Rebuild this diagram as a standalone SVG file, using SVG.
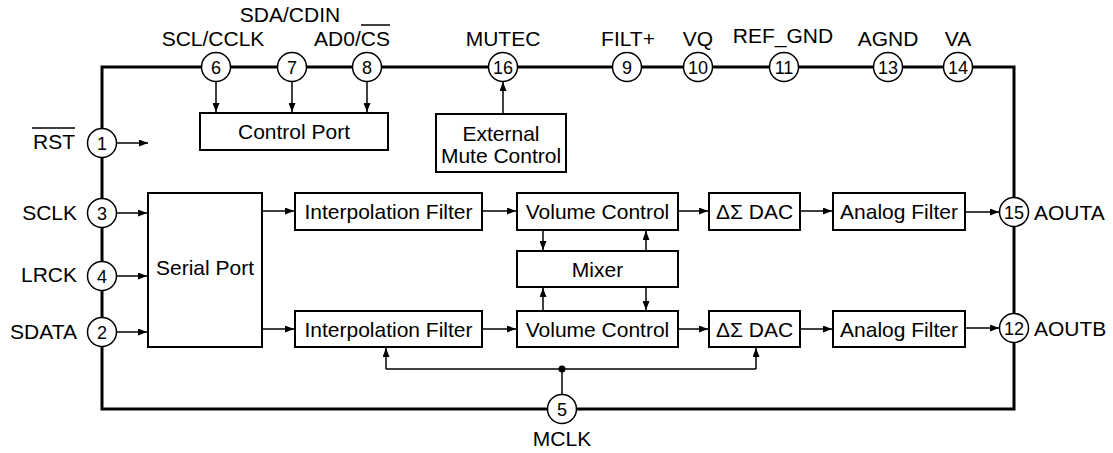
<svg xmlns="http://www.w3.org/2000/svg" width="1113" height="453" viewBox="0 0 1113 453">
<style>
text{font-family:"Liberation Sans",Arial,sans-serif;fill:#000}
.lbl{font-size:21px}
.num{font-size:18px;text-anchor:middle}
.mid{text-anchor:middle}
.end{text-anchor:end}
.box{fill:#fff;stroke:#000;stroke-width:2}
.pin{fill:#fff;stroke:#000;stroke-width:1.5}
.con{fill:none;stroke:#000;stroke-width:1.5}
.ov{stroke:#000;stroke-width:1.5}
</style>
<defs>
<marker id="ah" markerUnits="userSpaceOnUse" markerWidth="10" markerHeight="7" refX="9" refY="3.5" orient="auto">
<path d="M0,0 L9,3.5 L0,7 z" fill="#000"/>
</marker>
</defs>
<rect id="chip" x="102" y="67" width="912" height="342" fill="none" stroke="#000" stroke-width="3"/>
<g id="connectors" class="con">
<path d="M216,82 V112" marker-end="url(#ah)"/>
<path d="M292,82 V112" marker-end="url(#ah)"/>
<path d="M367,82 V112" marker-end="url(#ah)"/>
<path d="M117,143 H148" marker-end="url(#ah)"/>
<path d="M503,114 V82" marker-end="url(#ah)"/>
<path d="M117,213 H147" marker-end="url(#ah)"/>
<path d="M117,276 H147" marker-end="url(#ah)"/>
<path d="M117,332 H147" marker-end="url(#ah)"/>
<path d="M262,211 H294" marker-end="url(#ah)"/>
<path d="M262,329 H294" marker-end="url(#ah)"/>
<path d="M482,211 H516" marker-end="url(#ah)"/>
<path d="M482,329 H516" marker-end="url(#ah)"/>
<path d="M678,211 H708" marker-end="url(#ah)"/>
<path d="M678,329 H708" marker-end="url(#ah)"/>
<path d="M800,211 H832" marker-end="url(#ah)"/>
<path d="M800,329 H832" marker-end="url(#ah)"/>
<path d="M965,212 H999" marker-end="url(#ah)"/>
<path d="M965,328 H999" marker-end="url(#ah)"/>
<path d="M543,230 V250" marker-end="url(#ah)"/>
<path d="M646,251 V231" marker-end="url(#ah)"/>
<path d="M543,311 V288" marker-end="url(#ah)"/>
<path d="M646,287 V310" marker-end="url(#ah)"/>
<path d="M562,394 V369"/>
<path d="M386,369 H756"/>
<path d="M386,369 V348" marker-end="url(#ah)"/>
<path d="M756,369 V348" marker-end="url(#ah)"/>
<circle cx="562" cy="369" r="3.5" fill="#000" stroke="none"/>
</g>
<g id="control-port"><rect class="box" x="200" y="113" width="188" height="37"/><text class="lbl mid" x="294" y="139">Control Port</text></g>
<g id="ext-mute"><rect class="box" x="436" y="114" width="130" height="58"/><text class="lbl mid" x="501" y="141">External</text><text class="lbl mid" x="501" y="163">Mute Control</text></g>
<g id="serial-port"><rect class="box" x="148" y="193" width="114" height="154"/><text class="lbl mid" x="205" y="275">Serial Port</text></g>
<g id="interp-a"><rect class="box" x="295" y="193" width="187" height="37"/><text class="lbl mid" x="388.5" y="219">Interpolation Filter</text></g>
<g id="interp-b"><rect class="box" x="295" y="311" width="187" height="36"/><text class="lbl mid" x="388.5" y="336.5">Interpolation Filter</text></g>
<g id="vol-a"><rect class="box" x="517" y="193" width="161" height="37"/><text class="lbl mid" x="597.5" y="219">Volume Control</text></g>
<g id="vol-b"><rect class="box" x="517" y="311" width="161" height="36"/><text class="lbl mid" x="597.5" y="336.5">Volume Control</text></g>
<g id="mixer"><rect class="box" x="517" y="251" width="161" height="36"/><text class="lbl mid" x="597.5" y="276.5">Mixer</text></g>
<g id="dac-a"><rect class="box" x="709" y="193" width="91" height="37"/><text class="lbl mid" x="754.5" y="219">ΔΣ DAC</text></g>
<g id="dac-b"><rect class="box" x="709" y="311" width="91" height="36"/><text class="lbl mid" x="754.5" y="336.5">ΔΣ DAC</text></g>
<g id="af-a"><rect class="box" x="833" y="193" width="132" height="37"/><text class="lbl mid" x="899" y="219">Analog Filter</text></g>
<g id="af-b"><rect class="box" x="833" y="311" width="132" height="36"/><text class="lbl mid" x="899" y="336.5">Analog Filter</text></g>
<g id="pin6"><circle class="pin" cx="216" cy="67" r="14.5"/><text class="num" x="216" y="73.5">6</text><text class="lbl mid" x="213" y="46">SCL/CCLK</text></g>
<g id="pin7"><circle class="pin" cx="292" cy="67" r="14.5"/><text class="num" x="292" y="73.5">7</text><text class="lbl mid" x="290" y="22">SDA/CDIN</text></g>
<g id="pin8"><circle class="pin" cx="367" cy="67" r="14.5"/><text class="num" x="367" y="73.5">8</text><text class="lbl mid" x="352" y="46">AD0/CS</text><line class="ov" x1="361" y1="25" x2="390" y2="25"/></g>
<g id="pin16"><circle class="pin" cx="503" cy="67" r="14.5"/><text class="num" x="503" y="73.5">16</text><text class="lbl mid" x="503" y="46">MUTEC</text></g>
<g id="pin9"><circle class="pin" cx="627" cy="67" r="14.5"/><text class="num" x="627" y="73.5">9</text><text class="lbl mid" x="628" y="46">FILT+</text></g>
<g id="pin10"><circle class="pin" cx="698" cy="67" r="14.5"/><text class="num" x="698" y="73.5">10</text><text class="lbl mid" x="698" y="46">VQ</text></g>
<g id="pin11"><circle class="pin" cx="784" cy="67" r="14.5"/><text class="num" x="784" y="73.5">11</text><text class="lbl mid" x="783" y="43">REF_GND</text></g>
<g id="pin13"><circle class="pin" cx="888" cy="67" r="14.5"/><text class="num" x="888" y="73.5">13</text><text class="lbl mid" x="888" y="46">AGND</text></g>
<g id="pin14"><circle class="pin" cx="958" cy="67" r="14.5"/><text class="num" x="958" y="73.5">14</text><text class="lbl mid" x="958" y="46">VA</text></g>
<g id="pin1"><circle class="pin" cx="102" cy="143" r="14.5"/><text class="num" x="102" y="149.5">1</text><text class="lbl end" x="75" y="149">RST</text><line class="ov" x1="32" y1="128" x2="75" y2="128"/></g>
<g id="pin3"><circle class="pin" cx="102" cy="213" r="14.5"/><text class="num" x="102" y="219.5">3</text><text class="lbl end" x="77" y="220">SCLK</text></g>
<g id="pin4"><circle class="pin" cx="102" cy="276" r="14.5"/><text class="num" x="102" y="282.5">4</text><text class="lbl end" x="77" y="282">LRCK</text></g>
<g id="pin2"><circle class="pin" cx="102" cy="332" r="14.5"/><text class="num" x="102" y="338.5">2</text><text class="lbl end" x="77" y="339">SDATA</text></g>
<g id="pin15"><circle class="pin" cx="1014" cy="212" r="14.5"/><text class="num" x="1014" y="218.5">15</text><text class="lbl" x="1034" y="220">AOUTA</text></g>
<g id="pin12"><circle class="pin" cx="1014" cy="328" r="14.5"/><text class="num" x="1014" y="334.5">12</text><text class="lbl" x="1034" y="336">AOUTB</text></g>
<g id="pin5"><circle class="pin" cx="562" cy="409" r="14.5"/><text class="num" x="562" y="415.5">5</text><text class="lbl mid" x="562" y="446">MCLK</text></g>
</svg>
